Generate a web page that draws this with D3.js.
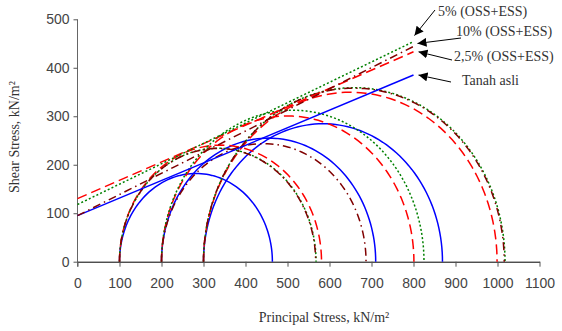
<!DOCTYPE html>
<html>
<head>
<meta charset="utf-8">
<script src="https://cdn.jsdelivr.net/npm/d3@7"></script>
<style>
  body { margin: 0; background: #fff; }
  svg { display: block; }
</style>
</head>
<body>
<div id="chart"></div>
<script>
// ---- data ----
const xTicks = [0, 100, 200, 300, 400, 500, 600, 700, 800, 900, 1000, 1100];
const yTicks = [0, 100, 200, 300, 400, 500];
const seriesNames = ["Tanah asli", "2,5% (OSS+ESS)", "5% (OSS+ESS)", "10% (OSS+ESS)"];
const sigma3 = [100, 200, 300];               // confining stress of each test
const sigma1Asli = [464, 710, 869];           // major principal stress at failure
const sigma1Ess25 = [581, 801, 999];
const sigma1Ess5 = [568, 825, 1018];
const sigma1Ess10 = [567, 687, 1016];
const envStart = [95, 130, 118, 95];          // envelope shear stress at sigma = 0
const envEnd = [385, 433, 454, 444];          // envelope shear stress at sigma = 800
const envEndX = 800;

const width = 562, height = 331;
const margin = { top: 19.3, right: 22.5, bottom: 69.3, left: 77.5 };

const x = d3.scaleLinear().domain([0, 1100]).range([margin.left, width - margin.right]);
const y = d3.scaleLinear().domain([0, 500]).range([height - margin.bottom, margin.top]);

const styles = [
  { color: "#0000ff", dash: null },
  { color: "#ff0000", dash: "10,5" },
  { color: "#008000", dash: "2,2.2" },
  { color: "#800000", dash: "8,4,1.5,4" }
];

const svg = d3.select("#chart").append("svg")
  .attr("width", width)
  .attr("height", height);

svg.append("rect").attr("width", width).attr("height", height).attr("fill", "#fff");

// axes
const xAxis = svg.append("g")
  .attr("transform", `translate(0,${y(0)})`)
  .call(d3.axisBottom(x).tickValues(xTicks).tickFormat(d3.format("d"))
    .tickSize(5).tickSizeOuter(0).tickPadding(11));
xAxis.select(".domain").attr("stroke", "#000");
xAxis.selectAll(".tick line").attr("stroke", "#555");
xAxis.selectAll("text")
  .attr("font-family", "Liberation Sans, Arial, sans-serif")
  .attr("font-size", 14)
  .attr("fill", "#444");

const yAxis = svg.append("g")
  .attr("transform", `translate(${x(0)},0)`)
  .call(d3.axisLeft(y).tickValues(yTicks).tickFormat(d3.format("d"))
    .tickSize(4).tickSizeOuter(0).tickPadding(4));
yAxis.select(".domain").attr("stroke", "#666").attr("d", `M0,${y(500)}V${y(0) + 5}`);
yAxis.selectAll(".tick line").attr("stroke", "#555");
yAxis.selectAll("text")
  .attr("font-family", "Liberation Sans, Arial, sans-serif")
  .attr("font-size", 14)
  .attr("fill", "#444");

// axis titles
svg.append("text")
  .attr("x", 324).attr("y", 322)
  .attr("text-anchor", "middle")
  .attr("font-family", "Liberation Serif, Times New Roman, serif")
  .attr("font-size", 14)
  .attr("fill", "#333")
  .text("Principal Stress, kN/m²");

svg.append("text")
  .attr("transform", `translate(19,137) rotate(-90)`)
  .attr("text-anchor", "middle")
  .attr("font-family", "Liberation Serif, Times New Roman, serif")
  .attr("font-size", 14)
  .attr("fill", "#333")
  .text("Shear Stress, kN/m²");

// Mohr circles (upper halves)
const sigma1All = [sigma1Asli, sigma1Ess25, sigma1Ess5, sigma1Ess10];
const angles = d3.range(0, 181, 2).map(a => a * Math.PI / 180);
const line = d3.line().x(d => x(d[0])).y(d => y(d[1]));

const plot = svg.append("g").attr("fill", "none");

sigma1All.forEach((s1s, k) => {
  s1s.forEach((s1, i) => {
    const c = (sigma3[i] + s1) / 2;
    const r = (s1 - sigma3[i]) / 2;
    const pts = angles.map(t => [c - r * Math.cos(t), r * Math.sin(t)]);
    plot.append("path")
      .attr("d", line(pts))
      .attr("stroke", styles[k].color)
      .attr("stroke-width", 1.5)
      .attr("stroke-dasharray", styles[k].dash);
  });
});

// failure envelopes
envStart.forEach((c0, k) => {
  plot.append("path")
    .attr("d", line([[0, c0], [envEndX, envEnd[k]]]))
    .attr("stroke", styles[k].color)
    .attr("stroke-width", 1.5)
    .attr("stroke-dasharray", styles[k].dash);
});

// labels with arrows
svg.append("defs").append("marker")
  .attr("id", "head")
  .attr("viewBox", "0 0 10 10")
  .attr("refX", 10).attr("refY", 5)
  .attr("markerWidth", 9).attr("markerHeight", 9)
  .attr("markerUnits", "userSpaceOnUse")
  .attr("orient", "auto")
  .append("path").attr("d", "M0,0L10,5L0,10Z").attr("fill", "#000");

// label order top to bottom: 5%, 10%, 2,5%, Tanah asli
const notes = [
  { k: 2, tx: 438, ty: 16, ax: 435, ay: 10, dx: 1, dy: -6 },
  { k: 3, tx: 456, ty: 36, ax: 461, ay: 38, dx: 4, dy: -3 },
  { k: 1, tx: 454, ty: 61, ax: 452, ay: 60, dx: 5, dy: 0 },
  { k: 0, tx: 462, ty: 85, ax: 451, ay: 82, dx: 5, dy: 0 }
];
notes.forEach(n => {
  const tipX = x(envEndX) + n.dx, tipY = y(envEnd[n.k]) + n.dy;
  svg.append("line")
    .attr("x1", n.ax).attr("y1", n.ay)
    .attr("x2", tipX).attr("y2", tipY)
    .attr("stroke", "#000").attr("stroke-width", 1)
    .attr("marker-end", "url(#head)");
  svg.append("text")
    .attr("x", n.tx).attr("y", n.ty)
    .attr("font-family", "Liberation Serif, Times New Roman, serif")
    .attr("font-size", 14)
    .attr("fill", "#333")
    .text(seriesNames[n.k]);
});
</script>
</body>
</html>
